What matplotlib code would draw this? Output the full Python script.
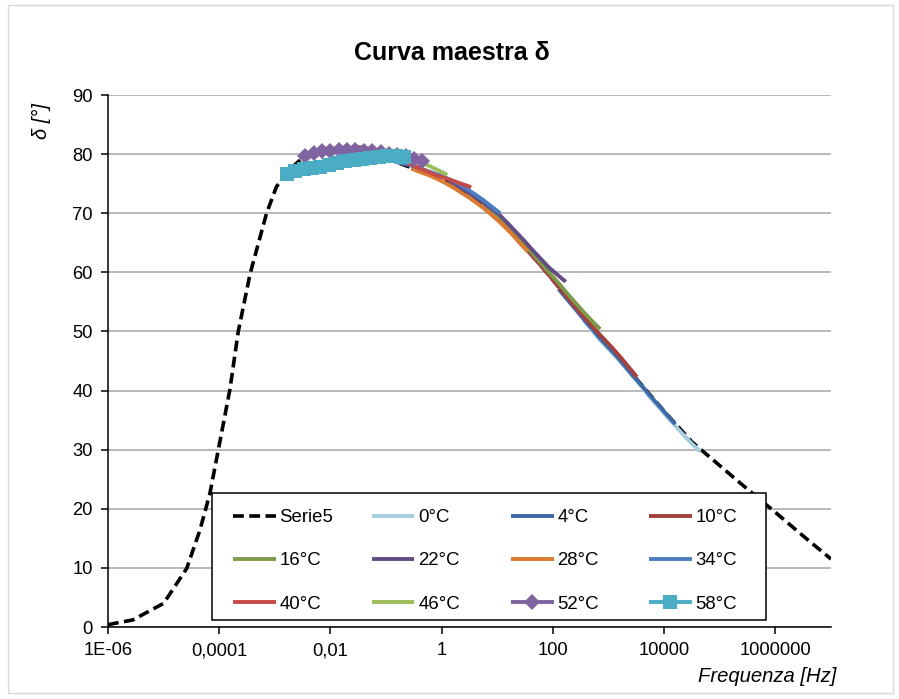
import numpy as np
import matplotlib
matplotlib.use("Agg")
import matplotlib.pyplot as plt
from matplotlib.patches import Rectangle
from matplotlib.ticker import FixedLocator, FixedFormatter, NullLocator

plt.rcParams['font.family'] = ['Liberation Sans', 'DejaVu Sans']

# ---------------- data ----------------
# master curve (Serie5): reduced frequency [Hz] and delta [deg]
master_hz = [1e-6, 2.8e-6, 1e-5, 2.6e-5, 4.5e-5, 6.8e-5, 9.5e-5, 1.55e-4, 2.2e-4,
             3.6e-4, 7.1e-4, 1.07e-3, 2.1e-3, 3.7e-3, 1e-2, 3.16e-2, 0.1, 0.25, 0.79,
             3.16, 10, 31.6, 100, 316, 1000, 3160, 1e4, 3.16e4, 1e5, 3.16e5, 1e6,
             3.16e6, 1e7]
master_delta = [0.4, 1.2, 4.0, 9.9, 16.4, 22.6, 29.7, 40.1, 50.0,
                59.8, 70.0, 74.5, 77.9, 79.9, 80.5, 80.2, 79.3, 77.9, 76.2,
                73.2, 69.8, 64.4, 58.7, 52.9, 47.5, 42.0, 36.5, 31.3, 27.3, 23.3, 19.4,
                15.4, 11.5]

# frequency sweep of the tests [Hz]
sweep_hz = [0.100, 0.141, 0.200, 0.282, 0.398, 0.562, 0.794, 1.12, 1.58, 2.24,
            3.16, 4.47, 6.31, 8.91, 12.6]

temperatures = ["0°C", "4°C", "10°C", "16°C", "22°C", "28°C", "34°C", "40°C",
                "46°C", "52°C", "58°C"]
# log10 of shift factors aT
log_aT = [3.55, 3.10, 2.41, 1.75, 1.13, 0.45, -0.05, -0.57, -1.00, -1.45, -1.78]

delta_0C = [51.9, 50.2, 48.5, 47.0, 45.5, 43.9, 42.2, 40.6, 38.8, 37.2, 35.6, 34.0, 32.5, 31.0, 29.7]
delta_4C = [57.2, 55.5, 53.8, 52.1, 50.5, 48.8, 47.3, 45.8, 44.1, 42.4, 40.8, 39.1, 37.5, 35.9, 34.3]
delta_10C = [65.2, 63.5, 61.9, 60.3, 58.6, 56.9, 55.2, 53.5, 51.9, 50.3, 48.8, 47.3, 45.7, 44.0, 42.3]
delta_16C = [71.6, 70.5, 69.3, 67.8, 66.2, 64.6, 63.0, 61.4, 59.8, 58.2, 56.5, 54.9, 53.3, 51.8, 50.4]
delta_22C = [75.4, 74.6, 73.8, 72.8, 71.9, 70.9, 69.8, 68.4, 66.9, 65.4, 63.8, 62.3, 60.8, 59.6, 58.4]
delta_28C = [77.6, 77.0, 76.5, 75.9, 75.2, 74.4, 73.5, 72.6, 71.6, 70.5, 69.3, 68.0, 66.6, 65.0, 63.5]
delta_34C = [79.2, 78.9, 78.5, 78.2, 77.8, 77.3, 76.8, 76.3, 75.7, 75.0, 74.1, 73.2, 72.2, 71.1, 70.0]
delta_40C = [81.3, 81.1, 80.8, 80.3, 79.8, 79.3, 78.7, 78.1, 77.5, 76.9, 76.3, 75.9, 75.4, 74.9, 74.4]
delta_46C = [80.9, 81.0, 81.0, 80.9, 80.8, 80.6, 80.4, 80.1, 79.8, 79.4, 79.0, 78.5, 77.9, 77.2, 76.5]
delta_52C = [79.7, 80.2, 80.5, 80.6, 80.7, 80.7, 80.7, 80.6, 80.5, 80.3, 80.1, 79.9, 79.6, 79.2, 78.8]
delta_58C = [76.6, 77.1, 77.4, 77.7, 77.9, 78.2, 78.5, 78.8, 79.0, 79.2, 79.4, 79.5, 79.6, 79.6, 79.5]

x_ticks = [1e-6, 1e-4, 1e-2, 1, 100, 1e4, 1e6]
x_tick_labels = ["1E-06", "0,0001", "0,01", "1", "100", "10000", "1000000"]
y_ticks = [0, 10, 20, 30, 40, 50, 60, 70, 80, 90]

# ---------------- style ----------------
colors = ["#A6CDDD", "#3E6AA8", "#A5403D", "#7C9A47", "#634C86", "#DC7A2F",
          "#4A7EC0", "#C64B48", "#9BBB59", "#8064A2", "#4BACC6"]
markers = [None] * 9 + ["D", "s"]
msizes = [0] * 9 + [8.5, 9.5]

W, H = 899, 699
fig = plt.figure(figsize=(W / 100, H / 100), dpi=100)
fig.patch.set_facecolor("white")
ax = fig.add_axes([108 / W, 1 - 627 / H, (831 - 108) / W, (627 - 95) / H])

all_delta = [delta_0C, delta_4C, delta_10C, delta_16C, delta_22C, delta_28C,
             delta_34C, delta_40C, delta_46C, delta_52C, delta_58C]

handles = []
h_master, = ax.plot(master_hz, master_delta, color="black", lw=2.6,
                    dashes=(3.0, 1.5), zorder=2, label="Serie5")
handles.append(h_master)
sweep = np.array(sweep_hz)
for i, (lab, shift, d) in enumerate(zip(temperatures, log_aT, all_delta)):
    z = 4 if markers[i] else 3
    h, = ax.plot(sweep * 10 ** shift, d, color=colors[i], lw=2.8,
                 marker=markers[i], markersize=msizes[i], markeredgewidth=0,
                 solid_joinstyle="round", solid_capstyle="butt",
                 zorder=z, label=lab)
    handles.append(h)

ax.set_xscale("log")
ax.set_xlim(1e-6, 1e7)
ax.set_ylim(0, 90)
ax.xaxis.set_major_locator(FixedLocator(x_ticks))
ax.xaxis.set_major_formatter(FixedFormatter(x_tick_labels))
ax.xaxis.set_minor_locator(NullLocator())
ax.set_yticks(y_ticks)
ax.yaxis.grid(True, color="#A6A6A6", lw=1.1)
ax.set_axisbelow(True)
for s in ["top", "right"]:
    ax.spines[s].set_visible(False)
for s in ["left", "bottom"]:
    ax.spines[s].set_color("black")
    ax.spines[s].set_linewidth(1.1)
ax.tick_params(axis="both", direction="out", length=5, width=1.1, color="black",
               labelsize=13.2, labelcolor="black")
ax.tick_params(axis="x", pad=6)
ax.tick_params(axis="y", pad=6)

# titles / labels
fig.text(452 / W, 1 - 53 / H, "Curva maestra δ", ha="center", va="center",
         fontsize=18, fontweight="bold")
fig.text(41 / W, 1 - 121 / H, "δ [°]", ha="center", va="center", rotation=90,
         fontsize=14.5, fontstyle="italic")
fig.text(836 / W, 1 - 676 / H, "Frequenza [Hz]", ha="right", va="center",
         fontsize=14.6, fontstyle="italic")

# legend frame
fig.patches.append(Rectangle((212 / W, 1 - 620 / H), (766 - 212) / W, (620 - 493) / H,
                             transform=fig.transFigure, facecolor="white",
                             edgecolor="black", lw=1.1, zorder=4))
col_x = [232.7, 371.6, 511, 649]
for c in range(4):
    hs = [handles[c], handles[c + 4], handles[c + 8]]
    leg = fig.legend(hs, [h.get_label() for h in hs], loc="upper left",
                     bbox_to_anchor=(col_x[c] / W, 1 - 509 / H), frameon=False,
                     borderpad=0, borderaxespad=0, fontsize=13.4,
                     handlelength=2.3, handletextpad=0.2, labelspacing=1.42)
    leg.set_zorder(6)

# outer chart border
fig.patches.append(Rectangle((8 / W, 1 - 693 / H), (893 - 8) / W, (693 - 5) / H,
                             transform=fig.transFigure, fill=False,
                             edgecolor="#D9D9D9", lw=1, zorder=1))

fig.savefig("out.png", dpi=100)
